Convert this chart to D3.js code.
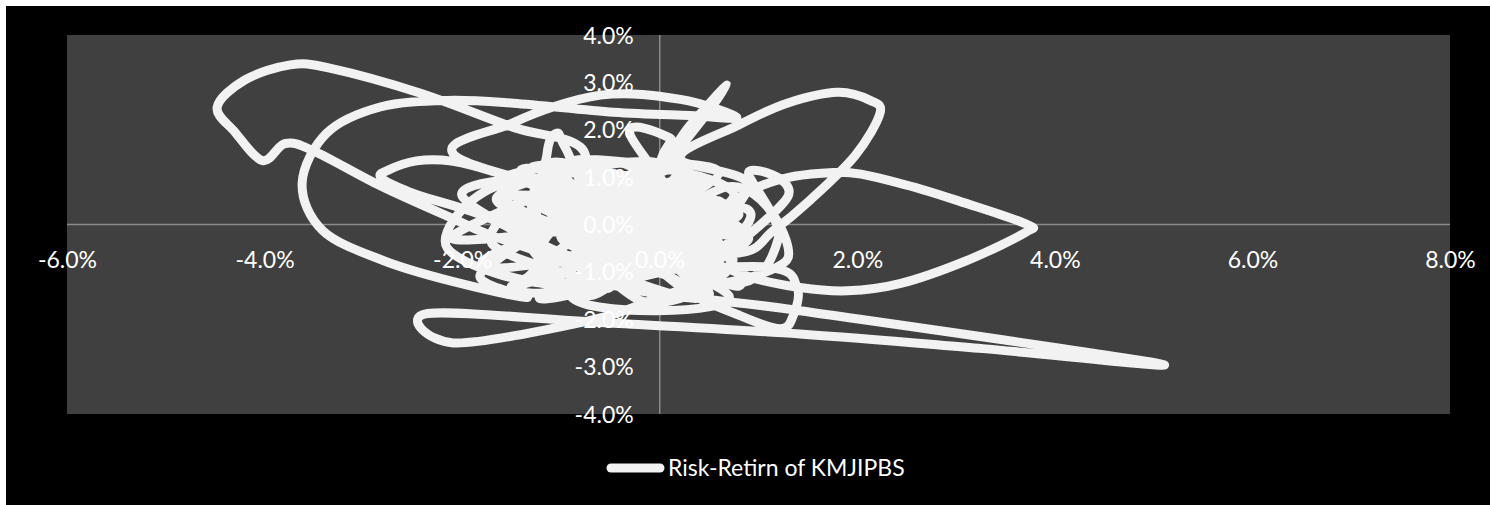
<!DOCTYPE html>
<html>
<head>
<meta charset="utf-8">
<script src="https://cdn.jsdelivr.net/npm/d3@7"></script>
<style>
  html, body { margin: 0; padding: 0; background: #ffffff; }
  svg { display: block; }
  text { font-family: Lato, "Open Sans", sans-serif; }
</style>
</head>
<body>
<svg id="chart" width="1490" height="505"></svg>
<script>
// Series label shown in the legend
const seriesName = "Risk-Retirn of KMJIPBS";

// Risk (x, %) and return (y, %) observations, in plotting order
const riskValues = [
  0.10, -0.50, 0.40, -0.90, 0.60, -0.30, -1.20, 0.20, 0.90, -0.60,
  -0.80, -1.48, -2.42, -3.34, -3.74, -4.20, -4.48, -4.30, -4.02, -3.79,
  -3.50, -2.83, -2.12, -1.61, -0.80, 0.30, -0.40, 0.50, -1.00, 0.10,
  0.41, 1.42, 5.07, 3.27, 1.42, -0.60, -2.35, -2.09, -0.80, -0.10,
  0.60, -0.70, 0.30, -1.30, 0.80, -1.99, -1.48, -0.60, 0.21, 0.78,
  0.31, -0.47, -1.48, -2.15, -2.83, -3.37, -3.62, -3.41, -2.80, -2.12,
  -1.34, -1.82, -1.20, 0.20, -0.50, 0.70, -1.60, 0.00, 0.90, 0.21,
  0.80, 1.29, 1.80, 2.13, 2.23, 1.98, 1.52, 1.15, 0.80, -0.20,
  0.50, -0.80, -0.10, 0.92, 1.76, 2.43, 3.11, 3.72, 3.70, 3.11,
  2.43, 1.90, 1.42, 0.90, 0.20, -0.60, 0.40, -0.40, 1.10, 1.39,
  1.35, 1.22, 0.82, 0.20, -0.30, 0.60, -1.10, -0.20, 0.31, 0.68,
  0.35, -0.10, -0.80, 0.50, -1.90, -2.80, -2.55, -1.80, -0.60, 0.30,
  -1.14, -1.14, -1.04, -0.95, -0.60, 0.40, -0.30, 0.08, 0.05, -0.40,
  -2.10, -1.00, -2.00, -0.50, -1.80, -0.20, -1.40, 0.60, 1.20, 0.90,
  1.30, 0.40, 1.30, 0.70, -0.80, -2.15, -1.50, 0.10, -1.50, 0.60,
  -1.60, 0.70, -0.90, 0.20, -1.70, 0.80, -1.30, -0.20, 0.70, -1.60,
  0.30, -0.70, -1.50, 0.80, -0.40, -1.70, 0.50, -1.10, 0.90, -1.40,
  0.00, -1.65, 0.60, -0.90, 0.75, -1.20, -0.30, -1.00, -0.10, -0.80,
  0.40, -1.50, 0.10
];
const returnValues = [
  0.20, -0.40, 0.60, 0.10, -0.50, 0.90, -0.60, -0.90, 0.30, 0.50,
  1.63, 2.05, 2.77, 3.30, 3.37, 3.05, 2.48, 1.95, 1.35, 1.71,
  1.55, 0.82, 0.15, -0.30, -0.70, -0.20, 0.40, 0.90, -0.20, -1.10,
  -1.54, -1.82, -2.94, -2.62, -2.31, -2.07, -1.88, -2.50, -2.07, -1.61,
  -0.90, -0.30, 0.50, 0.40, -0.20, 1.35, 2.15, 2.73, 2.64, 2.26,
  2.30, 2.37, 2.56, 2.62, 2.48, 1.93, 0.87, -0.13, -0.76, -1.19,
  -1.54, -1.08, -0.20, 0.80, -1.20, 0.10, 0.60, -0.60, 0.80, 1.40,
  2.10, 2.56, 2.79, 2.62, 2.35, 1.46, 0.51, -0.13, -0.60, -0.40,
  0.30, 0.80, -0.80, 0.72, 1.10, 0.87, 0.44, 0.00, -0.17, -0.76,
  -1.25, -1.40, -1.33, -1.10, -0.50, 0.20, 1.00, -0.80, -0.90, -1.33,
  -1.93, -2.20, -1.93, -1.30, -0.10, 0.50, 0.30, 0.80, 2.10, 2.94,
  2.00, 0.90, -0.40, -0.70, 1.25, 1.10, 0.70, 0.20, -0.80, 0.30,
  -0.13, 1.50, 1.93, 1.60, 0.40, -0.30, 1.90, 1.85, 1.55, 0.20,
  -0.30, 0.90, 0.60, -1.30, -0.80, 0.60, 1.10, -1.20, -0.30, 1.10,
  0.60, -1.20, -0.70, 0.80, -1.20, -0.50, 0.90, 0.10, -1.30, 1.10,
  0.90, -1.50, -1.50, 1.20, -0.90, 0.20, 1.20, -1.60, -0.60, 0.20,
  1.10, -1.50, 0.60, -1.30, 1.30, -0.40, -1.50, 1.30, -0.30, -1.40,
  1.25, 0.50, -1.00, 1.30, 0.60, -1.50, -1.00, 0.00, 0.50, 1.00,
  -1.55, -0.10, -0.30
];

// Axis ticks (%)
const xTickValues = [-6, -4, -2, 0, 2, 4, 6, 8];
const yTickValues = [-4, -3, -2, -1, 0, 1, 2, 3, 4];

const points = riskValues.map((r, i) => ({ x: r, y: returnValues[i] }));

const svg = d3.select("#chart");
const W = 1490, H = 505;
const plot = { left: 67, right: 1450, top: 35, bottom: 414 };

const x = d3.scaleLinear().domain([-6, 8]).range([plot.left, plot.right]);
const y = d3.scaleLinear().domain([-4, 4]).range([plot.bottom, plot.top]);
// Percent labels with a plain hyphen for negatives
const pct = d => d.toFixed(1) + "%";

// Chart background and plot area
svg.append("rect").attr("x", 6).attr("y", 6).attr("width", W - 6).attr("height", H - 6).attr("fill", "#000000");
svg.append("rect")
  .attr("x", plot.left).attr("y", plot.top)
  .attr("width", plot.right - plot.left).attr("height", plot.bottom - plot.top)
  .attr("fill", "#404040");

// Axis lines crossing at the origin
const axisLines = svg.append("g").attr("stroke", "#8a8a8a").attr("stroke-width", 1.5);
axisLines.append("line")
  .attr("x1", x.range()[0]).attr("x2", x.range()[1])
  .attr("y1", y(0)).attr("y2", y(0));
axisLines.append("line")
  .attr("x1", x(0)).attr("x2", x(0))
  .attr("y1", y.range()[0]).attr("y2", y.range()[1]);

// Smoothed risk-return trace
const line = d3.line()
  .x(d => x(d.x))
  .y(d => y(d.y))
  .curve(d3.curveCardinal.tension(0));

svg.append("path")
  .datum(points)
  .attr("d", line)
  .attr("fill", "none")
  .attr("stroke", "#f2f2f2")
  .attr("stroke-width", 9)
  .attr("stroke-linejoin", "round")
  .attr("stroke-linecap", "round");

// Tick labels, drawn above the trace
const xAxis = svg.append("g")
  .attr("transform", `translate(0,${y(0)})`)
  .call(d3.axisBottom(x).tickValues(xTickValues).tickFormat(pct).tickSize(0).tickPadding(0));
xAxis.select(".domain").remove();
xAxis.selectAll("text")
  .attr("y", 35).attr("dy", "0.35em")
  .attr("fill", "#ffffff").style("font-size", "23px");

const yAxis = svg.append("g")
  .attr("transform", `translate(${x(0)},0)`)
  .call(d3.axisLeft(y).tickValues(yTickValues).tickFormat(pct).tickSize(0).tickPadding(26));
yAxis.select(".domain").remove();
yAxis.selectAll("text")
  .attr("dy", "0.35em")
  .attr("fill", "#ffffff").style("font-size", "23px");

// Legend
const legend = svg.append("g").attr("transform", "translate(0,468)");
legend.append("line")
  .attr("x1", 611).attr("x2", 660).attr("y1", 0).attr("y2", 0)
  .attr("stroke", "#f2f2f2").attr("stroke-width", 9).attr("stroke-linecap", "round");
legend.append("text")
  .attr("x", 668).attr("y", 0).attr("dy", "0.35em")
  .attr("fill", "#ffffff").style("font-size", "23px")
  .text(seriesName);
</script>
</body>
</html>
